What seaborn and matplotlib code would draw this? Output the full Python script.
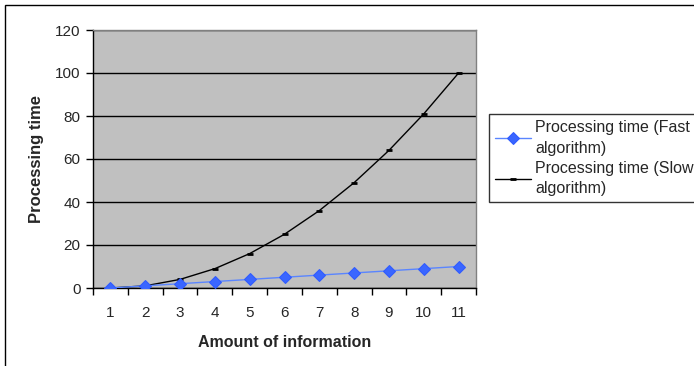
import matplotlib
matplotlib.use("Agg")
import matplotlib.pyplot as plt
from matplotlib.patches import Rectangle
from matplotlib.ticker import FixedLocator
import seaborn as sns
import pandas as pd

# data
amount = [1, 2, 3, 4, 5, 6, 7, 8, 9, 10, 11]
fast_time = [0, 1, 2, 3, 4, 5, 6, 7, 8, 9, 10]
slow_time = [0, 1, 4, 9, 16, 25, 36, 49, 64, 81, 100]
fast_label = "Processing time (Fast\nalgorithm)"
slow_label = "Processing time (Slow\nalgorithm)"

df = pd.DataFrame({"amount": amount, "fast": fast_time, "slow": slow_time})

sns.set_style("white")
plt.rcParams["font.family"] = ["Liberation Sans", "DejaVu Sans"]

fig = plt.figure(figsize=(6.94, 3.66), dpi=100)
ax = fig.add_axes([93 / 694, 1 - 288 / 366, (476 - 93) / 694, (288 - 30) / 366])
ax.set_facecolor("#C0C0C0")

sns.lineplot(data=df, x="amount", y="fast", ax=ax, color="#5A85FF", lw=1,
             marker="D", markersize=6, markeredgecolor="#2F5BFF",
             markerfacecolor="#3A66FF", label=fast_label, zorder=4)
sns.lineplot(data=df, x="amount", y="slow", ax=ax, color="black", lw=1,
             marker="_", markersize=5, markeredgewidth=2, markeredgecolor="black",
             label=slow_label, zorder=3)

ax.set_xlim(0.5, 11.5)
ax.set_ylim(0, 120)
ax.set_yticks(range(0, 121, 20))
ax.yaxis.grid(True, color="black", lw=1)
ax.set_axisbelow(True)

# category axis: ticks on boundaries, labels at centers
ax.xaxis.set_major_locator(FixedLocator([i + 0.5 for i in range(0, 12)]))
ax.xaxis.set_minor_locator(FixedLocator(amount))
ax.set_xticklabels([])
ax.set_xticklabels([str(a) for a in amount], minor=True)
ax.tick_params(axis="x", which="major", direction="out", length=5, width=1,
               color="black", bottom=True)
ax.tick_params(axis="x", which="minor", length=0, pad=13, labelsize=11)
ax.tick_params(axis="y", direction="out", length=5, width=1, color="black",
               left=True, labelsize=11, pad=4)

for s in ["top", "right"]:
    ax.spines[s].set_color("#808080")
    ax.spines[s].set_linewidth(1)
for s in ["left", "bottom"]:
    ax.spines[s].set_color("black")
    ax.spines[s].set_linewidth(1)

ax.set_xlabel("Amount of information", fontsize=11.5, fontweight="bold", labelpad=11)
ax.set_ylabel("Processing time", fontsize=12, fontweight="bold", labelpad=8)

leg = ax.legend(loc="upper left", bbox_to_anchor=(489 / 694, 1 - 114 / 366),
                bbox_transform=fig.transFigure, borderaxespad=0, fontsize=11.5,
                frameon=True, fancybox=False, handlelength=2.2, handletextpad=0.3,
                labelspacing=0.3, borderpad=0.4)
leg.get_frame().set_edgecolor("black")
leg.get_frame().set_linewidth(1)
for t in leg.get_texts():
    t.set_linespacing(1.45)

# outer chart border (cut off at right and bottom)
fig.patches.append(Rectangle((5 / 694, -0.5), 2.0, 1 - 5 / 366 + 0.5,
                             transform=fig.transFigure, fill=False,
                             edgecolor="black", lw=1))

fig.savefig("out.png", dpi=100)
